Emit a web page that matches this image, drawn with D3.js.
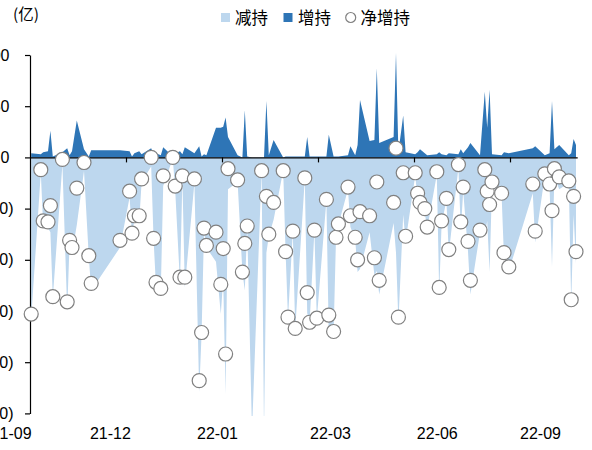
<!DOCTYPE html>
<html>
<head>
<meta charset="utf-8">
<script src="https://cdn.jsdelivr.net/npm/d3@7/dist/d3.min.js"></script>
<style>
  html, body { margin: 0; padding: 0; background: #fff; }
  svg { display: block; }
</style>
</head>
<body>
<svg id="chart" width="592" height="450"></svg>
<script>
// ---------------- data ----------------
const categoryCount = 228;
const dayIdx = [0,4,5,7,8,9,13,15,16,17,19,22,24,25,37,41,42,43,45,46,50,51,52,54,55,59,60,62,63,64,68,70,71,72,73,77,79,80,81,82,86,88,89,90,92,96,97,98,99,101,105,106,107,109,110,114,115,116,118,119,123,124,126,127,128,132,133,135,136,137,141,143,144,145,151,152,153,155,156,160,161,162,164,165,169,170,171,173,174,178,179,180,182,183,187,189,190,191,192,196,197,199,209,210,214,216,217,218,220,224,225,226,227];
const decrease = [-157,-15,-67,-69,-73,-137,-7,-150,-83,-94,-66,-13,-97,-130,-88,-39,-75,-61,-63,-24,-9,-81,-126,-130,-28,-1,-32,-123,-21,-127,-25,-229,-172,-72,-88,-102,-153,-119,-231,-31,-24,-112,-130,-68,-268,-13,-268,-93,-77,-61,-13,-93,-157,-73,-168,-21,-152,-162,-72,-158,-42,-176,-171,-79,-66,-31,-68,-80,-112,-109,-73,-115,-111,-134,-64,-93,-161,-56,-82,-18,-40,-52,-54,-70,-17,-132,-65,-42,-94,-10,-71,-33,-92,-134,-73,-76,-62,-112,-27,-37,-98,-111,-35,-83,-18,-30,-107,-19,-31,-25,-143,-56,-104];
const increase = [4,3,5,6,26,1,5,9,2,6,36,8,1,7,7,6,1,4,6,3,9,2,4,2,10,1,4,6,3,10,4,11,1,3,2,29,29,30,39,20,2,0,46,1,0,0,0,55,2,17,0,1,1,1,1,1,20,1,1,1,1,22,1,1,1,2,11,2,12,56,16,17,87,14,20,102,5,41,5,3,5,8,4,2,3,5,3,2,4,3,8,4,10,14,2,64,29,66,3,2,5,4,9,11,2,4,55,8,12,2,4,18,12];
const netIncrease = [-153,-12,-62,-63,-47,-136,-2,-141,-81,-88,-30,-5,-96,-123,-81,-33,-74,-57,-57,-21,0,-79,-122,-128,-18,0,-28,-117,-18,-117,-21,-218,-171,-69,-86,-73,-124,-89,-192,-11,-22,-112,-84,-67,null,-13,null,-38,-75,-44,-13,-92,-156,-72,-167,-20,-132,-161,-71,-157,-41,-154,-170,-78,-65,-29,-57,-78,-100,-53,-57,-98,-24,-120,-44,9,-156,-15,-77,-15,-35,-44,-50,-68,-14,-127,-62,-40,-90,-7,-63,-29,-82,-120,-71,-12,-33,-46,-24,-35,-93,-107,-26,-72,-16,-26,-52,-11,-19,-23,-139,-38,-92];

const yTicks = [100, 50, 0, -50, -100, -150, -200, -250];
const xLabels = ["21-09", "21-12", "22-01", "22-03", "22-06", "22-09"];
const xLabelPos = [-8.6, 32.8, 77.4, 124.5, 169, 212];
const xTickPos = [39.5, 79.5, 119.5, 159.5, 199.5];
const seriesNames = ["减持", "增持", "净增持"];
const unitLabel = "(亿)";

// ---------------- chart ----------------
const svg = d3.select("#chart");
const font = "'Liberation Sans', Arial, sans-serif";
const cjk = "'Noto Sans CJK SC', 'Noto Sans CJK TC', sans-serif";
const lightBlue = "#BDD7EE", darkBlue = "#2E75B6";

const x = d3.scaleLinear().domain([-0.5, categoryCount - 0.5]).range([30, 577.2]);
const y = d3.scaleLinear().domain([-250, 100]).range([413.4, 55]);

const rows = dayIdx.map((d, k) => ({ i: d, dec: decrease[k], inc: increase[k], net: netIncrease[k] }));

svg.append("defs").append("clipPath").attr("id", "plotClip")
  .append("rect").attr("x", 30).attr("y", 40).attr("width", 560).attr("height", 376);

const plot = svg.append("g").attr("clip-path", "url(#plotClip)");

plot.append("path").datum(rows)
  .attr("fill", lightBlue)
  .attr("d", d3.area().x(d => x(d.i)).y0(y(0)).y1(d => y(d.dec)));

plot.append("path").datum(rows)
  .attr("fill", darkBlue)
  .attr("d", d3.area().x(d => x(d.i)).y0(y(0)).y1(d => y(d.inc)));

// y axis
const yAxis = svg.append("g").attr("transform", "translate(30,0)")
  .call(d3.axisLeft(y).tickValues(yTicks).tickSize(5).tickSizeOuter(0).tickPadding(14)
    .tickFormat(v => v < 0 ? `(${-v})` : `${v}`));
yAxis.selectAll("path, line").attr("stroke", "#000").attr("stroke-width", 1.2);
yAxis.selectAll("text").attr("font-family", font).attr("font-size", 16).attr("fill", "#000")
  .attr("dx", d => d < 0 ? 2.5 : -1.5);

// x axis (zero line)
const xAxis = svg.append("g").attr("transform", `translate(0,${y(0)})`)
  .call(d3.axisBottom(x).tickValues(xTickPos).tickSize(5).tickSizeOuter(0).tickFormat(""));
xAxis.selectAll("path, line").attr("stroke", "#000").attr("stroke-width", 1.2);

// x labels
const xLab = svg.append("g").attr("transform", "translate(0,434)")
  .call(d3.axisBottom(x).tickValues(xLabelPos).tickSize(0).tickPadding(0)
    .tickFormat((d, k) => xLabels[k]));
xLab.select(".domain").remove();
xLab.selectAll("text").attr("font-family", font).attr("font-size", 16).attr("fill", "#000")
  .attr("dy", "0.32em").attr("y", 0);

// circles
svg.append("g").selectAll("circle")
  .data(rows.filter(d => d.net !== null && d.net >= -250))
  .join("circle")
  .attr("cx", d => x(d.i)).attr("cy", d => y(d.net)).attr("r", 7)
  .attr("fill", "#fff").attr("stroke", "#808080").attr("stroke-width", 1.2);

// unit label
svg.append("text").attr("x", 13).attr("y", 15).attr("dy", "0.35em")
  .attr("font-family", cjk).attr("font-size", 15.5).attr("fill", "#000").text(unitLabel);

// legend
const leg = svg.append("g");
leg.append("rect").attr("x", 221).attr("y", 13).attr("width", 9).attr("height", 9).attr("fill", lightBlue);
leg.append("text").attr("x", 235).attr("y", 18).attr("dy", "0.36em").attr("font-family", cjk)
  .attr("font-size", 16.5).attr("fill", "#000").text(seriesNames[0]);
leg.append("rect").attr("x", 283.5).attr("y", 13).attr("width", 9).attr("height", 9).attr("fill", darkBlue);
leg.append("text").attr("x", 298).attr("y", 18).attr("dy", "0.36em").attr("font-family", cjk)
  .attr("font-size", 16.5).attr("fill", "#000").text(seriesNames[1]);
leg.append("circle").attr("cx", 350.7).attr("cy", 17.5).attr("r", 5)
  .attr("fill", "#fff").attr("stroke", "#808080").attr("stroke-width", 1.2);
leg.append("text").attr("x", 360.5).attr("y", 18).attr("dy", "0.36em").attr("font-family", cjk)
  .attr("font-size", 16.5).attr("fill", "#000").text(seriesNames[2]);
</script>
</body>
</html>
